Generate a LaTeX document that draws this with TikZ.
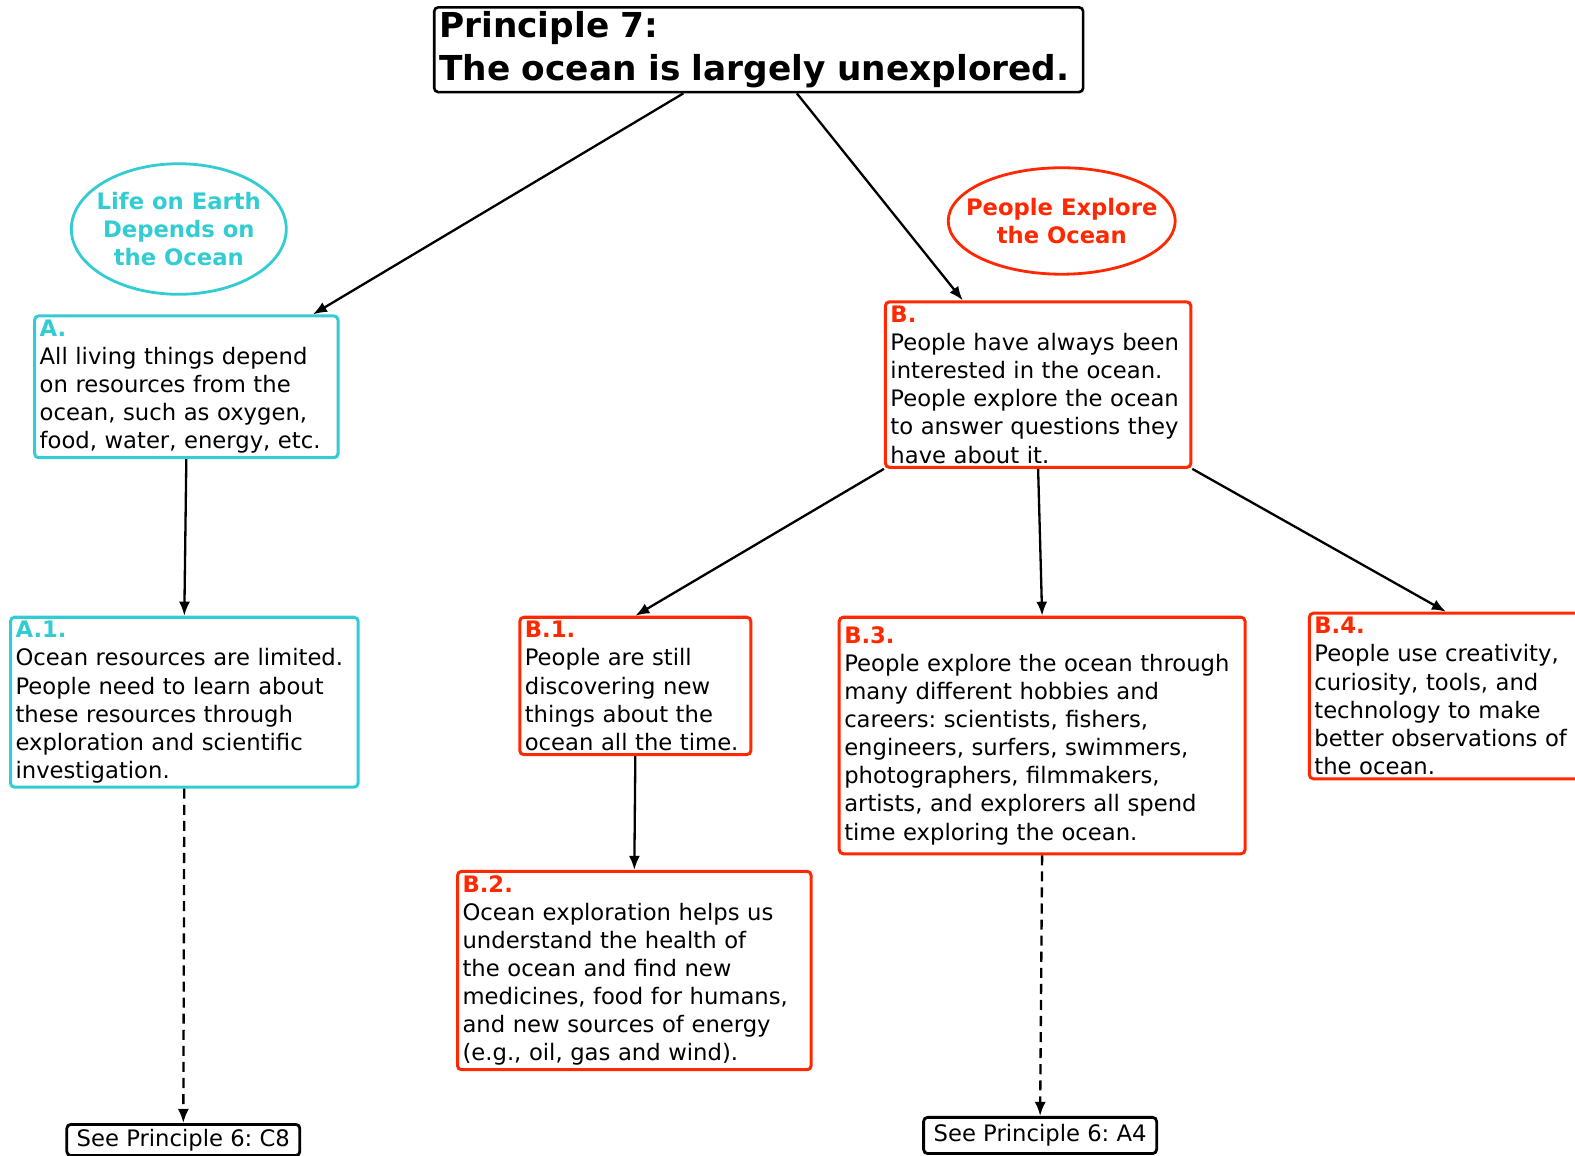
\documentclass[tikz,border=0pt]{standalone}
\usepackage{fontspec}
\setmainfont{DejaVu Sans}
\usetikzlibrary{arrows.meta}

\definecolor{oceancyan}{RGB}{51,204,210}
\definecolor{explred}{RGB}{255,40,0}
\newcommand{\bodyfont}{\fontsize{11.3}{14}\selectfont}
\newcommand{\boxlabel}[2]{\textcolor{#1}{\bfseries #2}}
\frenchspacing

\tikzset{
  cybox/.style={draw=oceancyan, line width=1.5pt, rounded corners=2pt, align=left,
    anchor=north west, inner xsep=2.5pt, inner ysep=2pt, font=\bodyfont},
  rdbox/.style={cybox, draw=explred},
  seebox/.style={draw, line width=1.4pt, rounded corners=2pt, anchor=north,
    inner xsep=2.5pt, inner ysep=2pt, font=\bodyfont},
  ovaltext/.style={align=center, inner sep=0pt, font=\bodyfont\bfseries},
  link/.style={-{Latex[length=7pt,width=5.5pt]}, line width=1.15pt},
  dashlink/.style={link, dash pattern=on 5pt off 3pt}
}

\begin{document}
\begin{tikzpicture}[x=0.5pt, y=-0.5pt]
        \useasboundingbox (0,0) rectangle (1568,1150);

        \node[draw, line width=1.3pt, rounded corners=2pt, anchor=north west, align=left,
              text width=318pt, inner xsep=2.5pt, inner ysep=2pt,
              font=\fontsize{17.1}{21.5}\selectfont\bfseries] (title) at (431,6)
              {Principle 7:\\The ocean is largely unexplored.};

        \node[ovaltext, text=oceancyan] (lifeoval) at (178,228) {Life on Earth\\Depends on\\the Ocean};
        \draw[oceancyan, line width=1.4pt] (lifeoval.center) ellipse [x radius=107, y radius=65];
        \node[ovaltext, text=explred] (exploval) at (1057,220) {People Explore\\the Ocean};
        \draw[explred, line width=1.4pt] (exploval.center) ellipse [x radius=113, y radius=53];

        \node[cybox, text width=146pt] (a) at (33,313)
              {\boxlabel{oceancyan}{A.}\\All living things depend\\on resources from the\\ocean, such as oxygen,\\food, water, energy, etc.};
        \node[cybox, text width=168pt] (a1) at (9,613)
              {\boxlabel{oceancyan}{A.1.}\\Ocean resources are limited.\\People need to learn about\\these resources through\\exploration and scientific\\investigation.};

        \node[rdbox, text width=147pt] (b) at (880,299)
              {\boxlabel{explred}{B.}\\People have always been\\interested in the ocean.\\People explore the ocean\\to answer questions they\\have about it.};
        \node[rdbox, text width=110pt] (b1) at (516,613)
              {\boxlabel{explred}{B.1.}\\People are still\\discovering new\\things about the\\ocean all the time.};
        \node[rdbox, text width=171pt] (b2) at (454,866)
              {\boxlabel{explred}{B.2.}\\Ocean exploration helps us\\understand the health of\\the ocean and find new\\medicines, food for humans,\\and new sources of energy\\(e.g., oil, gas and wind).};
        \node[rdbox, text width=197pt, inner ysep=4.5pt] (b3) at (834,613)
              {\boxlabel{explred}{B.3.}\\People explore the ocean through\\many different hobbies and\\careers: scientists, fishers,\\engineers, surfers, swimmers,\\photographers, filmmakers,\\artists, and explorers all spend\\time exploring the ocean.};
        \node[rdbox, text width=131pt] (b4) at (1302,609)
              {\boxlabel{explred}{B.4.}\\People use creativity,\\curiosity, tools, and\\technology to make\\better observations of\\the ocean.};

        \node[seebox, minimum width=116pt, minimum height=15.5pt] (seec8) at (182.5,1118) {See Principle 6: C8};
        \node[seebox, minimum width=116pt, minimum height=18pt] (seea4) at (1035.5,1111) {See Principle 6: A4};

        \draw[link] ([xshift=-37.5pt]title.south) -- ([xshift=63pt]a.north);
        \draw[link] ([xshift=19pt]title.south) -- ([xshift=-37.5pt]b.north);
        \draw[link] (a.south) -- (a1.north);
        \draw[link] (b.south west) -- (b1.north);
        \draw[link] (b.south) -- (b3.north);
        \draw[link] (b.south east) -- (b4.north);
        \draw[link] (b1.south) -- (b2.north);

        \draw[dashlink] (a1.south) -- (seec8.north);
        \draw[dashlink] (b3.south) -- (seea4.north);
\end{tikzpicture}
\end{document}
